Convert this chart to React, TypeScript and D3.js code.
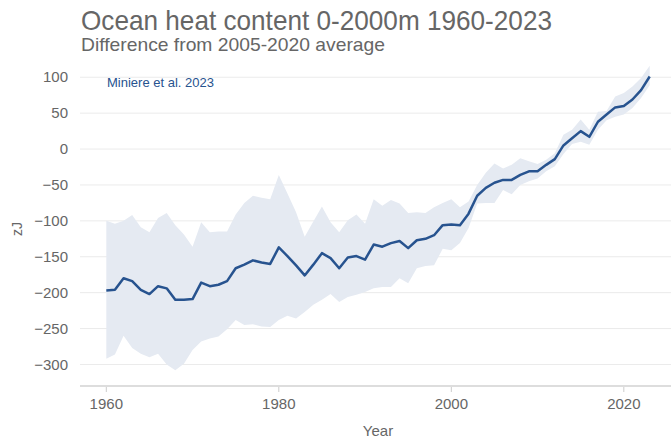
import React from "react";
import * as d3 from "d3";

const years: number[] = d3.range(1960, 2024);

const central: number[] = [
  -197, -196, -180, -184, -196, -202, -191, -194, -210, -210,
  -209, -186, -191, -189, -184, -166, -161, -155, -158, -160,
  -137, -149, -162, -176, -161, -145, -152, -166, -151, -149,
  -154, -133, -136, -131, -128, -138, -127, -125, -120, -106,
  -105, -106, -90, -65, -54, -47, -43, -43, -36, -31,
  -31, -22, -14, 5, 15, 25, 17, 38, 48, 58,
  60, 69, 82, 101,
];

const upper: number[] = [
  -100, -104, -100, -92, -109, -116, -96, -89, -106, -119,
  -136, -102, -116, -115, -115, -91, -75, -65, -68, -70,
  -36, -62, -88, -122, -101, -80, -102, -116, -99, -91,
  -104, -70, -79, -71, -76, -89, -88, -89, -81, -75,
  -70, -81, -73, -50, -33, -20, -27, -22, -13, -17,
  -21, -15, -6, 20, 27, 41, 27, 52, 53, 73,
  78, 87, 99, 116,
];

const lower: number[] = [
  -292, -286, -260, -277, -285, -290, -285, -300, -308, -299,
  -280, -268, -264, -261, -251, -238, -245, -244, -247, -248,
  -238, -232, -236, -227, -217, -210, -202, -213, -206, -203,
  -199, -194, -192, -192, -180, -187, -166, -163, -162, -139,
  -141, -131, -110, -76, -75, -75, -57, -63, -50, -45,
  -41, -31, -24, -7, 7, 10, 6, 27, 40, 45,
  48, 57, 71, 89,
];

const yTicks: number[] = [100, 50, 0, -50, -100, -150, -200, -250, -300];
const xTicks: number[] = [1960, 1980, 2000, 2020];

const titleText = "Ocean heat content 0-2000m 1960-2023";
const subtitleText = "Difference from 2005-2020 average";
const annotationText = "Miniere et al. 2023";
const yAxisTitle = "zJ";
const xAxisTitle = "Year";

const W = 671;
const H = 438;
const plotLeft = 80;
const plotRight = 676;
const plotTop = 60;
const plotBottom = 386;

const FONT = "'Liberation Sans', Arial, sans-serif";
const LINE_COLOR = "#27538f";
const TEXT_COLOR = "#666666";

export default function App() {
  const x = d3.scaleLinear().domain([1956.95, 2026.05]).range([plotLeft, plotRight]);
  const y = d3.scaleLinear().domain([-330, 124]).range([plotBottom, plotTop]);

  const rows = years.map((yr, i) => ({ yr, c: central[i], hi: upper[i], lo: lower[i] }));

  const area = d3
    .area<{ yr: number; hi: number; lo: number }>()
    .x((d) => x(d.yr))
    .y0((d) => y(d.lo))
    .y1((d) => y(d.hi));
  const line = d3
    .line<{ yr: number; c: number }>()
    .x((d) => x(d.yr))
    .y((d) => y(d.c));

  const fmt = (v: number) => (v < 0 ? "\u2212" + Math.abs(v) : String(v));

  return (
    <svg
      width={W}
      height={H}
      style={{ position: "absolute", left: 0, top: 0, background: "#fff" }}
      fontFamily={FONT}
    >
      <rect x={0} y={0} width={W} height={H} fill="#ffffff" />
      {yTicks.map((t) => (
        <g key={t}>
          <line x1={plotLeft} x2={W} y1={y(t)} y2={y(t)} stroke="#ebebeb" strokeWidth={1} />
          <text x={68} y={y(t)} dy="0.35em" textAnchor="end" fontSize={15} fill={TEXT_COLOR}>
            {fmt(t)}
          </text>
        </g>
      ))}
      <path d={area(rows) || ""} fill="#e5eaf2" />
      <path d={line(rows) || ""} fill="none" stroke={LINE_COLOR} strokeWidth={2.5} strokeLinejoin="round" />
      <line x1={plotLeft} x2={W} y1={plotBottom} y2={plotBottom} stroke="#dddddd" strokeWidth={2} />
      {xTicks.map((t) => (
        <g key={t}>
          <line x1={x(t)} x2={x(t)} y1={plotBottom + 1} y2={plotBottom + 6} stroke="#cccccc" strokeWidth={1} />
          <text x={x(t)} y={409} textAnchor="middle" fontSize={15} fill={TEXT_COLOR}>
            {t}
          </text>
        </g>
      ))}
      <text x={(plotLeft + plotRight) / 2} y={436} textAnchor="middle" fontSize={15} fill={TEXT_COLOR}>
        {xAxisTitle}
      </text>
      <text
        transform={`translate(22, ${(plotTop + plotBottom) / 2 + 6}) rotate(-90)`}
        textAnchor="middle"
        fontSize={14}
        fill={TEXT_COLOR}
      >
        {yAxisTitle}
      </text>
      <text x={107} y={86.5} fontSize={13} fill={LINE_COLOR}>
        {annotationText}
      </text>
      <text x={81} y={30} fontSize={28} fill={TEXT_COLOR} textLength={471} lengthAdjust="spacingAndGlyphs">
        {titleText}
      </text>
      <text x={81} y={51} fontSize={19} fill={TEXT_COLOR} textLength={304} lengthAdjust="spacingAndGlyphs">
        {subtitleText}
      </text>
    </svg>
  );
}
